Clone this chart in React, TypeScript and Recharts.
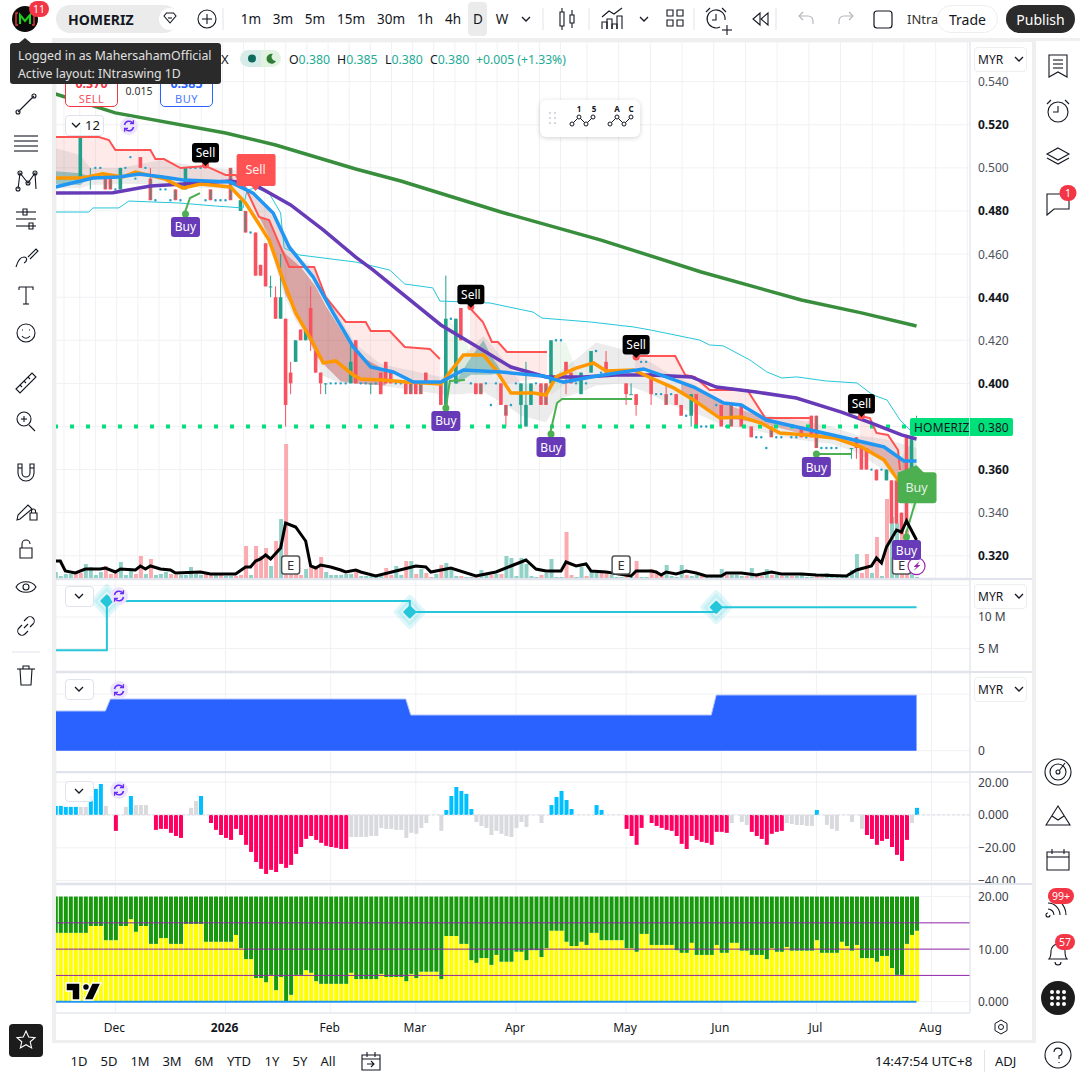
import React from "react"
import {
  Area,
  Bar,
  CartesianGrid,
  Cell,
  ComposedChart,
  Line,
  ReferenceDot,
  ReferenceLine,
  XAxis,
  YAxis,
} from "recharts"

const _ = null

// daily candles, one slot per bar
const opens = [
  .495,.495,.495,.495,.495,.495,_,.495,.5,.5,
  .495,.495,.49,.49,.5,.505,.495,.505,.5,.495,
  .485,.49,.49,.485,.49,.485,.49,.5,.5,.5,
  .485,.49,.485,.485,.485,.5,_,.48,.48,.47,
  .47,.455,.465,.445,.44,.43,.43,.405,.41,.425,
  .42,.435,.415,.405,.4,.4,.4,.4,.4,.4,
  .42,.4,.4,.4,.4,.405,.41,.405,.4,.4,
  .4,.4,.4,.4,.405,_,_,.4,.39,.43,
  .4,.435,.42,.4,.4,.4,.4,.39,.4,.4,
  .39,.39,.4,.39,.38,.39,.4,.4,.4,.4,
  .42,.42,.41,.405,.4,.395,.4,.405,.415,.405,
  .41,.405,.405,.405,.4,.395,.395,.41,.41,.405,
  .395,.395,.395,.395,.395,.39,.385,.385,.395,.38,
  .38,.38,.39,.39,.38,.39,.39,.39,_,.38,
  .375,.375,.37,.38,.375,.375,_,.375,.375,.38,
  .375,.385,.385,.37,.37,.37,.37,_,_,.37,
  .375,.37,.37,.36,.36,.36,.355,.355,.355,.34,
  .375,.355,.38,
]
const highs = [
  .495,.495,.495,.495,.495,.52,_,.5,.5,.5,
  .495,.495,.49,.5,.5,.505,.495,.505,.5,.5,
  .485,.49,.49,.485,.49,.485,.5,.5,.5,.5,
  .485,.49,.485,.485,.485,.5,_,.485,.48,.47,
  .47,.455,.465,.45,.445,.46,.43,.41,.42,.425,
  .425,.445,.415,.405,.4,.4,.4,.4,.4,.42,
  .42,.4,.4,.4,.4,.405,.41,.405,.4,.4,
  .4,.4,.4,.4,.405,_,_,.4,.45,.43,
  .43,.435,.42,.4,.4,.4,.4,.39,.4,.4,
  .39,.39,.4,.4,.41,.4,.4,.4,.4,.42,
  .42,.42,.41,.405,.4,.405,.4,.415,.415,.405,
  .415,.405,.405,.405,.4,.4,.395,.41,.41,.405,
  .395,.395,.4,.395,.395,.39,.385,.395,.395,.38,
  .38,.38,.39,.39,.38,.39,.39,.39,_,.38,
  .375,.375,.37,.38,.375,.375,_,.375,.375,.38,
  .375,.385,.385,.37,.37,.37,.37,_,_,.37,
  .375,.37,.37,.36,.36,.36,.36,.355,.355,.34,
  .375,.375,.385,
]
const lows = [
  .495,.495,.495,.495,.495,.495,_,.49,.5,.5,
  .49,.49,.49,.49,.5,.505,.495,.5,.5,.485,
  .485,.49,.49,.485,.485,.485,.49,.5,.5,.5,
  .485,.485,.485,.485,.485,.485,_,.48,.47,.47,
  .45,.45,.445,.44,.43,.43,.38,.395,.41,.42,
  .42,.415,.405,.395,.395,.4,.4,.4,.4,.4,
  .4,.4,.4,.395,.4,.395,.4,.4,.4,.4,
  .395,.395,.395,.395,.4,_,_,.39,.38,.43,
  .4,.42,.42,.4,.395,.395,.4,.39,.4,.39,
  .38,.39,.4,.38,.38,.39,.4,.39,.39,.4,
  .42,.42,.395,.4,.4,.395,.4,.405,.415,.405,
  .405,.405,.405,.405,.39,.395,.385,.41,.41,.39,
  .395,.395,.39,.395,.39,.385,.385,.38,.38,.38,
  .38,.38,.39,.38,.38,.38,.39,.38,_,.375,
  .375,.375,.37,.375,.375,.375,_,.375,.375,.375,
  .375,.375,.37,.37,.37,.37,.37,_,_,.365,
  .365,.36,.36,.36,.355,.36,.355,.335,.335,.33,
  .335,.355,.38,
]
const closes = [
  .495,.495,.495,.495,.495,.515,_,.495,.5,.5,
  .49,.49,.49,.5,.5,.505,.495,.5,.5,.485,
  .485,.49,.49,.485,.485,.485,.5,.5,.5,.5,
  .485,.485,.485,.485,.485,.485,_,.485,.47,.47,
  .45,.45,.445,.445,.43,.44,.39,.4,.42,.42,
  .425,.42,.405,.4,.4,.4,.4,.4,.4,.41,
  .4,.4,.4,.4,.4,.395,.4,.4,.4,.4,
  .395,.395,.395,.395,.4,_,_,.39,.43,.43,
  .43,.42,.42,.4,.395,.395,.4,.39,.4,.39,
  .385,.39,.4,.4,.39,.4,.4,.39,.39,.42,
  .42,.42,.405,.4,.4,.405,.4,.415,.415,.405,
  .405,.405,.405,.405,.395,.395,.39,.41,.41,.395,
  .395,.395,.39,.395,.39,.385,.385,.395,.38,.38,
  .38,.38,.39,.38,.38,.38,.39,.38,_,.375,
  .375,.375,.37,.375,.375,.375,_,.375,.375,.375,
  .375,.375,.37,.37,.37,.37,.37,_,_,.37,
  .37,.36,.36,.36,.355,.36,.36,.335,.335,.33,
  .335,.375,.38,
]
const twoToneBars = [10,11,19,24,31,35,38,45,71,73,85,90,94,98,122,135,143,152,160]

const volumes = [
  6,2,4,4,5,5,14,11,3,6,
  12,4,5,16,3,10,4,22,4,19,
  3,4,6,4,3,3,3,11,4,3,
  6,5,3,3,2,2,2,3,32,3,
  32,22,30,12,37,59,134,4,5,3,
  9,11,11,21,6,3,3,3,4,4,
  9,2,2,2,2,2,10,3,12,3,
  17,17,4,9,5,1,4,13,15,9,
  2,2,1,1,2,8,3,3,4,4,
  22,20,2,20,14,2,1,3,5,19,
  1,1,46,3,1,11,2,8,5,6,
  6,3,1,1,2,1,17,1,1,9,
  5,2,13,2,1,13,3,2,3,2,
  1,1,1,9,3,3,3,2,2,10,
  3,2,9,3,3,2,2,2,2,5,
  1,1,2,1,5,1,1,1,1,8,
  24,5,24,5,41,2,79,61,55,50,
  48,5,1,
]
const volumeUp =
  "1111001111" + "0001110010" + "1110011111" + "0010110001" + "0001010000" +
  "1000111111" + "0111110011" + "0101001011" + "1011011010" + "1111111011" +
  "1100110110" + "0111010110" + "0011110110" + "1111011101" + "0010101011" +
  "1100111111" + "1001010110" + "011"

const volumeAvg = [[0,17],[1,17],[2,7],[4,5],[6,9],[9,9],[10,10],[12,6],[13,9],[16,8],[17,12],[18,9],[19,12],[21,9],[23,8],[24,5],[29,6],[31,4],[36,4],[38,11],[39,11],[40,17],[41,19],[42,23],[43,19],[45,30],[46,55],[48,51],[50,37],[51,12],[52,10],[53,13],[55,11],[57,8],[58,6],[60,8],[61,6],[64,2],[68,7],[72,12],[74,11],[75,6],[79,10],[84,2],[88,6],[91,12],[94,18],[96,9],[98,7],[101,7],[102,16],[104,12],[106,14],[107,7],[110,6],[115,2],[116,7],[119,7],[120,6],[121,3],[122,6],[124,4],[126,7],[128,5],[130,2],[133,2],[134,5],[137,5],[140,3],[143,6],[145,4],[149,4],[152,3],[158,2],[160,8],[163,12],[164,20],[165,15],[166,31],[168,48],[169,46],[170,57],[172,38]]

const greenMa = [[0,.5343],[12,.5255],[34,.5162],[44,.5106],[60,.4995],[69,.4939],[89,.4795],[109,.4665],[129,.4517],[149,.4387],[161,.4327],[172,.4266]]
const purpleMa = [[0,.4883],[11.5,.4885],[19,.4916],[29,.493],[35,.4939],[40,.492],[47,.4828],[53.5,.4712],[60,.4586],[63.5,.4526],[77,.4271],[82,.4201],[91,.4076],[98,.403],[105.5,.403],[112,.4039],[119,.4039],[127,.403],[132,.3983],[140,.396],[148,.3932],[157,.3867],[163,.3816],[169,.3761],[172,.3742]]
const blueMa = [[0,.4911],[7.5,.4953],[12.7,.4958],[16.7,.4972],[21.5,.4958],[25.5,.4944],[35,.4934],[39.5,.4883],[43.5,.4791],[46.7,.4633],[51.5,.4494],[55.5,.4327],[59.5,.4169],[63,.4076],[67.5,.4053],[71.5,.4006],[77,.4006],[81.5,.4062],[89,.4053],[97.5,.4034],[101.5,.4006],[107,.403],[112,.4048],[117.5,.4067],[122,.403],[127.5,.3983],[133.5,.3909],[137,.39],[142,.383],[149,.3793],[157,.3751],[165.5,.3705],[169.5,.364],[172,.364]]
const orangeMa = [[0,.4953],[5.5,.4953],[9.5,.4972],[13.5,.4958],[16,.4981],[22,.4948],[25.5,.4906],[29,.4925],[35,.4911],[38,.4837],[42.7,.4665],[45.5,.448],[48,.4327],[51.5,.4187],[53.5,.4095],[56,.4104],[59.5,.4039],[61,.402],[65.5,.4016],[70,.4006],[77,.3997],[81.5,.4132],[85.5,.4132],[88,.4062],[91,.3955],[95.5,.3955],[98,.3946],[100,.403],[104,.4071],[107.5,.4095],[110,.4058],[115.5,.4062],[119,.4025],[123.5,.3979],[127.5,.3923],[132.7,.3839],[137,.3844],[141,.3816],[144.7,.377],[150,.3761],[155.5,.3747],[161,.3705],[165.5,.3645],[169,.3529],[172,.357]]
const cyanBand = [[0,.4795],[6.7,.4795],[7.5,.4814],[12.7,.4814],[14.7,.4846],[24.7,.4837],[32,.4823],[37.5,.4814],[38.3,.4897],[40,.4907],[42.7,.4883],[45,.4791],[45.7,.4628],[48.7,.4596],[60,.4563],[66.8,.4526],[69.8,.4461],[75.4,.4443],[76.8,.4382],[86.8,.4373],[95.4,.4331],[97.2,.4303],[106.8,.4285],[115.4,.4262],[118.8,.4248],[128.7,.4201],[130.7,.4178],[133.4,.4174],[138.7,.4109],[142.1,.4053],[145.1,.4025],[148.1,.403],[154,.4011],[160.1,.4002],[163.3,.3946],[166.1,.3923],[168.7,.383],[170.7,.3784]]

// red trailing stop, one run per sell signal: bar, stop, lower edge of the pink fill
const stopRuns = [
  [[0,.5143,.4953],[8.7,.5143,.4958],[10.7,.5129,.4958],[12,.5083,.4958],[19,.5083,.4958],[20,.5041,.4958],[21.7,.5041,.4958],[25,.4999,.4944],[30,.5009,.4934],[34,.4967,.4934],[36,.4967,.493],[38,.4907,.4897],[40.7,.4772,.485],[42.7,.4758,.48],[46.7,.454,.4633],[51.7,.454,.4494],[54,.4401,.439],[58,.4285,.422],[62,.4285,.409],[63,.4243,.4076],[66.8,.4243,.4055],[69.8,.4169,.402],[74.8,.416,.4006],[76.8,.4113,.4006]],
  [[82.8,.435,.4132],[85.4,.4285,.4132],[87.2,.4192,.409],[88.4,.4192,.4058],[90.2,.4146,.4],[98.2,.4146,.403]],
  [[115.8,.4122,.4067],[116.8,.4127,.4067],[123.8,.4127,.4015],[125.8,.4039,.3995],[127.7,.403,.398],[130.7,.3969,.394],[138.2,.3969,.388],[141.8,.3839,.383],[150.7,.3839,.379]],
  [[160.7,.3849,.372],[162.7,.3839,.371],[164,.377,.3705],[166.3,.3761,.37],[168.3,.3691,.366],[168.7,.3598,.3598]],
]
const buyTails = [
  [[25.9,.4795],[26.9,.486],[28.9,.4883]],
  [[78,.3886],[78.8,.4011],[81.8,.4016]],
  [[98.8,.3765],[100.2,.3909],[101.2,.3928],[115.2,.3928]],
  [[152,.3672],[159.1,.3672]],
  [[169.7,.3287],[171.7,.3445],[172,.3552]],
]

// shaded clouds: bar, low, high
const greyCloud = [[0,.4907,.5092],[5,.4907,.506],[7,.492,.4999],[13,.4925,.4999],[21,.4925,.5036],[28,.491,.501],[36,.49,.499],[38,.4837,.492],[42.7,.465,.48],[45.5,.442,.472],[48,.429,.459],[51.5,.417,.454],[53,.404,.445],[57,.4,.43],[60,.4,.418],[65,.399,.409],[77,.395,.403],[81,.395,.412],[85.5,.396,.422],[90,.39,.41],[93,.385,.4],[98,.382,.399],[101,.393,.406],[105,.396,.413],[108,.399,.419],[113,.4,.416],[118,.396,.411],[123,.39,.404],[128,.386,.399],[133,.381,.392],[140,.378,.386],[148,.374,.383],[155,.372,.38],[160,.368,.376],[166,.359,.374],[172,.35,.37]]
const redCloudA = [[40.7,.4772,.4772],[42.7,.468,.4758],[44,.456,.4679],[46,.441,.46],[49,.429,.454],[52,.413,.445],[54,.408,.436],[57,.401,.425],[60,.4,.414],[66,.399,.406]]
const redCloudB = [[125,.396,.401],[133,.384,.391],[141,.3816,.3845],[150,.3761,.379],[157,.374,.3751],[165,.365,.37],[170,.353,.364]]
const tealCloudA = [[0,.4925,.4985],[5,.492,.4975],[7,.496,.496]]
const tealCloudB = [[80,.3995,.401],[83,.404,.412],[85.5,.404,.42],[87,.404,.413],[89,.405,.406]]
const greenCloudA = [[78.5,.399,.43],[82,.406,.42],[83,.413,.413]]
const greenCloudB = [[99,.3946,.42],[102,.4,.419],[105,.4,.4]]
const greenCloudC = [[169,.35,.366],[172,.34,.375]]

const sellBars = [30, 83, 116, 161]
const sellPrices = [.5013, .4355, .4122, .3849]
const bigSellBar = 40
const bigSellPrice = .4897
const buyBars = [26, 78, 99, 152, 170]
const buyPrices = [.4786, .3886, .3765, .3672, .3287]
const bigBuyBar = 172
const bigBuyPrice = .362
const earningsBars = [47, 113, 169]
const earningsPrice = .3157
const lastPrice = .38

// step line pane
const stepBars = [0, 10.3, 70.8, 132, 172]
const stepValues = [4.73, 12.53, 10.79, 11.53, 11.53]
const diamondBars = [10.3, 70.8, 132]
const diamondValues = [12.53, 10.79, 11.53]

// blue area pane
const capBars = [0, 10, 11, 70, 71, 131, 132, 172]
const capValues = [39.7, 39.7, 51.7, 51.7, 35.7, 35.7, 55.7, 55.7]

// histogram pane
const histValues = [
  5.5,5.5,4.9,4.9,4.9,4.9,4.9,11.5,15.8,18.8,
  5.5,_,-9.7,_,4.9,11.5,6,6,6,_,
  -9.1,-8.5,-8.5,-10.9,-12.8,-14,_,4.3,8.5,11.5,
  _,-4.9,-9.1,-12.2,-14,-15.2,-8.5,-12.2,-18.2,-22.5,
  -28.6,-32.8,-35.9,-33.4,-34.7,-29.8,-32.2,-30.4,-23.7,-19.5,
  -14.6,-12.8,-15.2,-17,-18.8,-19.5,-20,-20.7,-20.7,-13.4,
  -13.4,-13.4,-13.4,-12.8,-12.8,-7.9,-8.5,-8.5,-9.1,-9.1,
  -14,-10.9,-11.5,-7.9,-4.9,_,_,-9.7,3,11.5,
  17,14.6,12.8,3.6,-4.3,-6.7,-7.9,-12.2,-9.7,-11.5,
  -12.8,-13.4,-7.9,-4.3,-7.3,_,_,-4.9,_,6,
  10.9,14.6,9.1,3.6,_,_,_,_,6,3,
  _,_,_,_,-8.5,-12.8,-18.2,-7.9,_,-4.9,
  -6.7,-7.9,-9.1,-9.7,-12.8,-17.6,-20.7,-12.8,-15.2,-16.4,
  -17,-18.2,-10.3,-10.3,-10.9,-4.9,_,-4.3,-6.1,-10.3,
  -12.8,-14.6,-18.2,-11.5,-10.3,-9.7,-4.9,-5.5,-6.1,-6.1,
  -6.7,-6.7,3,_,-6.1,-8.5,-9.7,_,_,-4.3,
  _,-8.5,-12.2,-14.6,-18.2,-15.8,-14.6,-19.5,-24.3,-28,
  -15.2,-4.9,4.3,
]
const histStates =
  "bbbbbggbbb" + "g.r.gbggg." + "rrrrrr.ggb" + ".rrrrrrrrr" + "rrrrrrrrrr" +
  "rrrrrrrrrg" + "gggggggggg" + "ggggg..gbb" + "bbbbgggggg" + "ggggg..g.b" +
  "bbbb....bb" + "....rrrr.r" + "rrrrrrrrrr" + "rrrrrg.ggr" + "rrrrrrgggg" +
  "ggb.ggg..g" + ".grrrrrrrr" + "rgb"

// yellow / green stacked pane
const yellowValues = [
  13.1,13.1,13.1,13.1,13.1,13.1,13.1,14.4,14.4,14.4,
  11.7,11.7,11.7,14.4,14.4,15.7,13.3,14.4,14.4,11,
  11,12.1,12.1,11,11,11,14.8,14.8,14.8,14.8,
  11.4,11.4,11.4,11.4,11.4,11.4,12.7,10.2,8.1,8.1,
  4.5,4.5,3.7,5.1,2.2,4.7,0,1.3,5.1,5.1,
  6,5.5,3.9,3.4,3.4,3.4,3.4,3.4,3.4,5.5,
  4.3,4.3,4.3,4.3,4.3,5.3,4.7,4.7,4.7,4.7,
  3.9,5.3,4.5,5.7,5.7,5.7,5.7,4.3,12.5,12.5,
  12.5,11,11,7.9,7.4,8.3,8.3,7,8.9,7.6,
  7.6,7.6,9.5,9.5,7.9,9.8,9.8,8.5,10.2,13.5,
  13.5,13.5,11.4,10.6,10.6,11.4,10.8,13.1,13.1,11.7,
  11.7,11.7,11.7,11.7,10.2,10.2,9.5,12.9,12.9,10.8,
  10.8,10.8,10.8,10.8,9.8,9.3,9.3,11.2,8.9,8.9,
  8.9,8.9,10.8,9.3,9.3,11.2,11.2,9.7,9.7,8.9,
  8.9,8.9,8.1,10.2,9.5,9.5,10.4,9.7,9.7,9.7,
  9.7,9.7,11.7,9.3,9.3,9.3,9.3,11.4,10.6,9.7,
  10.8,8.3,8.3,8.3,7.6,8.7,8.7,6.4,5.1,5.1,
  11,12.7,13.5,
]
const stackTop = 20
const levelLines = [5, 10, 15]
const baselineBars = [0, 172]
const baselineValues = [0, 0]

const monthBars = [12, 34, 55, 72, 92, 114, 133, 152, 175]
const monthNames = ["Dec", "2026", "Feb", "Mar", "Apr", "May", "Jun", "Jul", "Aug"]

const priceTicks = [.32, .34, .36, .38, .4, .42, .44, .46, .48, .5, .52, .54]
const boldPriceTicks = [.32, .36, .4, .44, .48, .52]

const bars = opens.map((o, i) => ({
  i,
  o,
  c: closes[i],
  range: o === null ? null : [lows[i], highs[i]],
  twoTone: twoToneBars.includes(i),
  vol: volumes[i],
  hist: histValues[i],
  yellow: yellowValues[i],
  green: stackTop - yellowValues[i],
}))
const toLine = (pts: number[][]) => pts.map(([i, v]) => ({ i, v }))
const toBand = (pts: number[][]) => pts.map(([i, lo, hi]) => ({ i, r: [lo, hi] }))

const UP = "#22a08c"
const DOWN = "#f7525f"
const GRID = "#f0f1f4"
const BORDER = "#e0e3eb"
const FONT = "'Noto Sans', sans-serif"
const xDomain: [number, number] = [0.14, 182.68]
const HIST_FILL: Record<string, string> = { b: "#00bfff", r: "#ff0062", g: "#d9dade", ".": "none" }

function Candle(props: any) {
  const { x, y, width, height, payload } = props
  if (!payload || !payload.range) return null
  const [lo, hi] = payload.range
  const cx = x + width / 2
  if (hi === lo) return <rect x={cx - 1.2} y={y - 1.2} width={2.4} height={2.4} rx={1} fill="#2a9fc9" />
  const pos = (p: number) => y + ((hi - p) / (hi - lo)) * height
  const top = pos(Math.max(payload.o, payload.c))
  const bottom = pos(Math.min(payload.o, payload.c))
  const fill = payload.c > payload.o ? UP : DOWN
  return (
    <g>
      <line x1={cx} x2={cx} y1={y} y2={y + height} stroke={payload.c === payload.o ? UP : fill} strokeWidth={1} />
      <rect x={cx - 1.8} y={top} width={3.6} height={Math.max(bottom - top, 1)} fill={payload.c === payload.o ? UP : fill} />
      {payload.twoTone && <rect x={cx - 0.5} y={top + 1} width={1} height={Math.max(bottom - top - 2, 0)} fill={UP} />}
    </g>
  )
}

function PriceTick({ x, y, payload }: any) {
  const bold = boldPriceTicks.includes(payload.value)
  if (payload.value === lastPrice) return null
  return (
    <text x={x} y={y + 4.5} fontFamily={FONT} fontSize={12} fontWeight={bold ? 700 : 400} fill={bold ? "#131722" : "#50535e"}>
      {payload.value.toFixed(3)}
    </text>
  )
}

const paneTick = (format: (v: number) => string) => ({ x, y, payload }: any) => (
  <text x={x} y={y + 4.5} fontFamily={FONT} fontSize={12} fill="#3b3e48">
    {format(payload.value)}
  </text>
)

function MonthTick({ x, y, payload }: any) {
  const idx = monthBars.indexOf(payload.value)
  const name = monthNames[idx]
  return (
    <text x={x - 1} y={y + 11} textAnchor="middle" fontFamily={FONT} fontSize={12} fontWeight={name === "2026" ? 700 : 400} fill="#131722">
      {name}
    </text>
  )
}

function SellMark({ cx, cy }: any) {
  return (
    <g fontFamily={FONT} fontSize={12}>
      <circle cx={cx} cy={cy} r={3.5} fill="#ff5252" />
      <path d={`M${cx - 4} ${cy - 3}L${cx} ${cy + 1}L${cx + 4} ${cy - 3}Z`} fill="#000" />
      <rect x={cx - 13.5} y={cy - 22} width={27} height={19.5} rx={3} fill="#000" />
      <text x={cx} y={cy - 8} textAnchor="middle" fill="#fff">Sell</text>
    </g>
  )
}

function BigSellMark({ cx, cy }: any) {
  return (
    <g fontFamily={FONT} fontSize={12.5}>
      <path d={`M${cx - 5} ${cy - 5}L${cx} ${cy + 1}L${cx + 5} ${cy - 5}Z`} fill="#ff5252" />
      <rect x={cx - 19} y={cy - 36} width={39} height={32} rx={2} fill="#ff5252" />
      <text x={cx} y={cy - 16} textAnchor="middle" fill="#fff" opacity={0.9}>Sell</text>
    </g>
  )
}

function BuyMark({ cx, cy }: any) {
  return (
    <g fontFamily={FONT} fontSize={12}>
      <circle cx={cx} cy={cy} r={3.5} fill="#4caf50" />
      <rect x={cx - 14.5} y={cy + 3} width={29} height={20} rx={3} fill="#673ab7" />
      <text x={cx} y={cy + 17.5} textAnchor="middle" fill="#fff">Buy</text>
    </g>
  )
}

function BigBuyMark({ cx, cy }: any) {
  return (
    <g fontFamily={FONT} fontSize={12.5}>
      <path d={`M${cx - 20} ${cy + 8}L${cx} ${cy}L${cx + 8} ${cy + 8}Z`} fill="#4caf50" />
      <rect x={cx - 19} y={cy + 7} width={39} height={31} rx={3} fill="#4caf50" />
      <text x={cx} y={cy + 27} textAnchor="middle" fill="#fff" opacity={0.85}>Buy</text>
    </g>
  )
}

function EarningsMark({ cx, cy }: any) {
  return (
    <g fontFamily={FONT}>
      <rect x={cx - 9} y={cy - 9} width={18} height={18} rx={2.5} fill="#fff" stroke="#555" strokeWidth={1.5} />
      <text x={cx} y={cy + 4.5} textAnchor="middle" fontSize={13} fill="#333">E</text>
    </g>
  )
}

function BoltMark({ cx, cy }: any) {
  return (
    <g>
      <circle cx={cx} cy={cy + 1} r={8.5} fill="#fff" stroke="#9c27b0" strokeWidth={1.2} />
      <path d={`M${cx + 3} ${cy - 4}L${cx - 3} ${cy + 2}H${cx}L${cx - 3} ${cy + 6}L${cx + 4} ${cy}H${cx + 1}Z`} fill="#9c27b0" />
    </g>
  )
}

function DiamondDot({ cx, cy }: any) {
  return (
    <g>
      <path d={`M${cx} ${cy - 14}L${cx + 13} ${cy}L${cx} ${cy + 14}L${cx - 13} ${cy}Z`} fill="#26c6da" fillOpacity={0.14} stroke="#26c6da" strokeOpacity={0.14} strokeWidth={6} strokeLinejoin="round" />
      <path d={`M${cx} ${cy - 5.5}L${cx + 5.5} ${cy}L${cx} ${cy + 5.5}L${cx - 5.5} ${cy}Z`} fill="#26c6da" stroke="#26c6da" strokeWidth={2} strokeLinejoin="round" />
    </g>
  )
}

function band(data: any[], fill: string, key: string) {
  return (
    <Area key={key} data={data} dataKey="r" type="linear" xAxisId="price" fill={fill} fillOpacity={1} stroke="none" dot={false} activeDot={false} isAnimationActive={false} />
  )
}

function line(data: any[], stroke: string, width: number, key: string, type: any = "linear") {
  return (
    <Line key={key} data={data} dataKey="v" type={type} xAxisId="price" stroke={stroke} strokeWidth={width} dot={false} activeDot={false} isAnimationActive={false} />
  )
}

function MainPane() {
  return (
    <ComposedChart width={976} height={536} data={bars} margin={{ top: 0, right: 0, bottom: 0, left: 0 }}>
      <CartesianGrid stroke={GRID} />
      <XAxis xAxisId="price" type="number" dataKey="i" domain={xDomain} ticks={monthBars} allowDataOverflow hide />
      <XAxis xAxisId="vol" type="number" dataKey="i" domain={xDomain} allowDataOverflow hide />
      <YAxis orientation="right" width={62} domain={[.3097, .5584]} ticks={priceTicks} interval={0} allowDataOverflow tick={PriceTick} tickLine={false} axisLine={{ stroke: BORDER }} />
      <YAxis yAxisId="vol" hide domain={[0, 536]} allowDataOverflow />
      <Bar xAxisId="vol" yAxisId="vol" dataKey="vol" barSize={4} isAnimationActive={false}>
        {bars.map((b) => (
          <Cell key={b.i} fill={volumeUp[b.i] === "1" ? "#92d1c7" : "#fbaab0"} />
        ))}
      </Bar>
      {stopRuns.map((run, k) => band(run.map(([i, hi, lo]) => ({ i, r: [lo, hi] })), "rgba(255,82,82,.12)", `pink${k}`))}
      {band(toBand(greyCloud), "rgba(110,110,110,.13)", "grey")}
      {band(toBand(greenCloudA), "rgba(76,175,80,.1)", "ga")}
      {band(toBand(greenCloudB), "rgba(76,175,80,.1)", "gb")}
      {band(toBand(greenCloudC), "rgba(76,175,80,.14)", "gc")}
      {band(toBand(redCloudA), "rgba(183,28,28,.34)", "ra")}
      {band(toBand(redCloudB), "rgba(183,28,28,.28)", "rb")}
      {band(toBand(tealCloudA), "rgba(0,130,120,.35)", "ta")}
      {band(toBand(tealCloudB), "rgba(0,130,120,.35)", "tb")}
      <Bar xAxisId="price" dataKey="range" barSize={4} shape={Candle} isAnimationActive={false} />
      <ReferenceLine xAxisId="price" y={lastPrice} stroke="#00e07a" strokeWidth={4} strokeDasharray="4 12" />
      {line(toLine(cyanBand), "#26c6da", 1, "cyan")}
      {buyTails.map((t, k) => line(toLine(t), "#4caf50", 2, `tail${k}`))}
      {stopRuns.map((run, k) => line(run.map(([i, hi]) => ({ i, v: hi })), "#ff5252", 2, `stop${k}`))}
      {line(toLine(greenMa), "#388e3c", 3.5, "green")}
      {line(toLine(purpleMa), "#673ab7", 3.5, "purple")}
      {line(toLine(orangeMa), "#ff9800", 3.5, "orange")}
      {line(toLine(blueMa), "#2196f3", 3.5, "blue")}
      <Line xAxisId="vol" yAxisId="vol" data={toLine(volumeAvg)} dataKey="v" type="linear" stroke="#000" strokeWidth={3} dot={false} activeDot={false} isAnimationActive={false} />
      {earningsBars.map((b) => (
        <ReferenceDot key={b} xAxisId="price" x={b} y={earningsPrice} shape={EarningsMark} zIndex={2000} />
      ))}
      <ReferenceDot xAxisId="price" x={172} y={earningsPrice} shape={BoltMark} zIndex={2000} />
      {sellBars.map((b, k) => (
        <ReferenceDot key={b} xAxisId="price" x={b} y={sellPrices[k]} shape={SellMark} zIndex={2000} />
      ))}
      {buyBars.map((b, k) => (
        <ReferenceDot key={b} xAxisId="price" x={b} y={buyPrices[k]} shape={BuyMark} zIndex={2000} />
      ))}
      <ReferenceDot xAxisId="price" x={bigSellBar} y={bigSellPrice} shape={BigSellMark} zIndex={2000} />
      <ReferenceDot xAxisId="price" x={bigBuyBar} y={bigBuyPrice} shape={BigBuyMark} zIndex={2000} />
    </ComposedChart>
  )
}

function StepPane() {
  const data = stepBars.map((i, k) => ({ i, v: stepValues[k] }))
  const marks = diamondBars.map((i, k) => ({ i, v: diamondValues[k] }))
  return (
    <ComposedChart width={976} height={91} margin={{ top: 0, right: 0, bottom: 0, left: 0 }}>
      <CartesianGrid stroke={GRID} />
      <XAxis type="number" dataKey="i" domain={xDomain} ticks={monthBars} allowDataOverflow hide />
      <YAxis orientation="right" width={62} domain={[1.45, 15.85]} ticks={[5, 10, 15]} interval={0} allowDataOverflow tick={paneTick((v) => (v === 15 ? "" : `${v} M`))} tickLine={false} axisLine={{ stroke: BORDER }} />
      <Line data={marks} dataKey="v" stroke="none" dot={DiamondDot} activeDot={false} isAnimationActive={false} />
      <Line data={data} dataKey="v" type="stepAfter" stroke="#26c6da" strokeWidth={2} dot={false} activeDot={false} isAnimationActive={false} />
    </ComposedChart>
  )
}

function CapPane() {
  const data = capBars.map((i, k) => ({ i, v: capValues[k] }))
  return (
    <ComposedChart width={976} height={99} margin={{ top: 0, right: 0, bottom: 0, left: 0 }}>
      <CartesianGrid stroke={GRID} />
      <XAxis type="number" dataKey="i" domain={xDomain} ticks={monthBars} allowDataOverflow hide />
      <YAxis orientation="right" width={62} domain={[-21.3, 77.7]} ticks={[0, 56.7]} interval={0} allowDataOverflow tick={paneTick((v) => (v === 0 ? "0" : ""))} tickLine={false} axisLine={{ stroke: BORDER }} />
      <Area data={data} dataKey="v" type="linear" baseValue={0} fill="#2962ff" fillOpacity={1} stroke="#b2c3ff" strokeWidth={1} dot={false} activeDot={false} isAnimationActive={false} />
    </ComposedChart>
  )
}

function HistPane() {
  return (
    <ComposedChart width={976} height={110} data={bars} margin={{ top: 0, right: 0, bottom: 0, left: 0 }}>
      <CartesianGrid stroke={GRID} />
      <XAxis type="number" dataKey="i" domain={xDomain} ticks={monthBars} allowDataOverflow hide />
      <YAxis orientation="right" width={62} domain={[-41.4, 25.5]} ticks={[-40, -20, 0, 20]} interval={0} allowDataOverflow
        tick={paneTick((v) => (v === 0 ? "0.000" : `${v < 0 ? "\u2212" : ""}${Math.abs(v).toFixed(2)}`))} tickLine={false} axisLine={{ stroke: BORDER }} />
      <ReferenceLine y={0} stroke="#dcdde2" strokeDasharray="3 2" />
      <Bar dataKey="hist" barSize={4} isAnimationActive={false}>
        {bars.map((b) => (
          <Cell key={b.i} fill={HIST_FILL[histStates[b.i]]} />
        ))}
      </Bar>
    </ComposedChart>
  )
}

function StackPane() {
  const baseline = baselineBars.map((i, k) => ({ i, v: baselineValues[k] }))
  return (
    <ComposedChart width={976} height={155} data={bars} margin={{ top: 0, right: 0, bottom: 0, left: 0 }}>
      <CartesianGrid stroke={GRID} />
      <XAxis type="number" dataKey="i" domain={xDomain} ticks={monthBars} interval={0} allowDataOverflow height={27} tick={MonthTick} tickLine={false} axisLine={{ stroke: BORDER }} />
      <YAxis orientation="right" width={62} domain={[-2.15, 22.2]} ticks={[0, 10, 20]} interval={0} allowDataOverflow
        tick={paneTick((v) => (v === 0 ? "0.000" : v.toFixed(2)))} tickLine={false} axisLine={{ stroke: BORDER }} />
      <Bar dataKey="yellow" stackId="s" fill="#ffff00" barSize={4} isAnimationActive={false} />
      <Bar dataKey="green" stackId="s" fill="#16990b" barSize={4} isAnimationActive={false} />
      {levelLines.map((v) => (
        <ReferenceLine key={v} y={v} stroke="#8e24aa" strokeWidth={1} />
      ))}
      <Line data={baseline} dataKey="v" stroke="#2196f3" strokeWidth={2} dot={false} activeDot={false} isAnimationActive={false} />
    </ComposedChart>
  )
}

// ---- chrome around the chart ----

const txt = (x: number, y: number, s: string, o: any = {}) => (
  <div style={{ position: "absolute", left: x, top: y, transform: `translate(${o.center ? "-50%" : "0"},-50%)`, whiteSpace: "nowrap", fontFamily: FONT, fontSize: o.size ?? 14, fontWeight: o.weight ?? 400, color: o.color ?? "#131722", letterSpacing: o.ls }}>
    {s}
  </div>
)
const box = (x: number, y: number, w: number, h: number, s: any) => (
  <div style={{ position: "absolute", left: x, top: y, width: w, height: h, boxSizing: "border-box", ...s }} />
)
const ico = (paths: string, extra: any = {}) => (
  <g fill="none" stroke="#131722" strokeWidth={1.1} {...extra}>
    {paths.split("|").map((d, k) => <path key={k} d={d} />)}
  </g>
)
const at = (x: number, y: number, node: any) => <g transform={`translate(${x} ${y})`}>{node}</g>
const badge = (x: number, y: number, label: string) => (
  <div style={{ position: "absolute", left: x, top: y, transform: "translate(-50%,-50%)", minWidth: 9, padding: "0 4px", height: 16, borderRadius: 8, background: "#f23645", color: "#fff", fontFamily: FONT, fontSize: 10.5, lineHeight: "16px", textAlign: "center" }}>
    {label}
  </div>
)
const chevron = (x: number, y: number, c = "#131722") => (
  <svg style={{ position: "absolute", left: x - 5, top: y - 3 }} width={10} height={6}><path d="M1 1l4 4 4-4" fill="none" stroke={c} strokeWidth={1.3} /></svg>
)
const syncIcon = (x: number, y: number) => (
  <svg style={{ position: "absolute", left: x - 9, top: y - 9 }} width={18} height={18}>
    <circle cx={9} cy={9} r={9} fill="#ece6fb" />
    <path d="M4.5 8a4.6 4.6 0 0 1 8.2-2M13.5 10a4.6 4.6 0 0 1-8.2 2" fill="none" stroke="#6a2cf5" strokeWidth={1.5} />
    <path d="M13.4 3.2v3.4H10M4.6 14.8v-3.4H8" fill="none" stroke="#6a2cf5" strokeWidth={1.3} />
  </svg>
)
const collapseBtn = (y: number, label?: string) => (
  <>
    {box(65, y - 10, label ? 39 : 29, 21, { background: "rgba(255,255,255,.9)", border: "1px solid #e0e3eb", borderRadius: 4 })}
    {chevron(label ? 76 : 79, y)}
    {label && txt(85, y, label, { size: 13 })}
  </>
)
const myrBtn = (y: number) => (
  <>
    {box(974, y, 53, 25, { background: "#fff", border: "1px solid #eceef2", borderRadius: 4 })}
    {txt(978, y + 12, "MYR", { size: 12 })}
    {chevron(1019, y + 12)}
  </>
)

const intervals: [string, number][] = [["1m", 251], ["3m", 283], ["5m", 315], ["15m", 351], ["30m", 391], ["1h", 425], ["4h", 453], ["D", 478], ["W", 502]]
const ranges: [string, number][] = [["1D", 79], ["5D", 109], ["1M", 140], ["3M", 172], ["6M", 204], ["YTD", 239], ["1Y", 272], ["5Y", 300], ["All", 328]]

function TopBar() {
  return (
    <>
      {box(0, 0, 1080, 38, { background: "#fff" })}
      {box(56, 5, 122, 28, { background: "#ebebeb", borderRadius: 14 })}
      {txt(68, 19, "HOMERIZ", { weight: 700, size: 14 })}
      {box(468, 2, 19, 34, { background: "#ebebeb", borderRadius: 4 })}
      {intervals.map(([s, x]) => <React.Fragment key={s}>{txt(x, 19, s, { center: true, size: 13.5 })}</React.Fragment>)}
      {chevron(526, 19)}
      {chevron(644, 19)}
      {txt(907, 19, "INtra", { size: 13, color: "#333" })}
      {box(937, 5, 61, 28, { background: "#fff", border: "1px solid #eceef2", borderRadius: 14 })}
      {txt(967.5, 19, "Trade", { center: true })}
      {box(1006, 5, 69, 28, { background: "#2b2b2b", borderRadius: 14 })}
      {txt(1040.5, 19, "Publish", { center: true, color: "#fff" })}
      <svg style={{ position: "absolute", left: 0, top: 0 }} width={1080} height={38}>
        <circle cx={25} cy={19} r={13} fill="#0b0b0b" />
        <path d="M20 24v-9l5 6 5-6v9" fill="none" stroke="#1fd11f" strokeWidth={2} />
        <path d="M18 13h-2v12h2M32 13h2v12h-2" fill="none" stroke="#e53935" strokeWidth={1.4} />
        <circle cx={170} cy={19} r={11} fill="#fff" />
        {at(170, 19, ico("M-6 -3l2.5-3h7l2.5 3-6 7z|M-2 -1h4"))}
        {at(207, 19, ico("M-9 0a9 9 0 1 0 18 0a9 9 0 1 0-18 0|M-5 0h10|M0 -5v10"))}
        {[223, 543, 589, 694, 776].map((x) => <path key={x} d={`M${x} 8v22`} stroke="#e0e3eb" />)}
        {at(567, 19, ico("M-7 -7h4v14h-4z|M-5 -11v4|M-5 7v4|M3 -4h4v8h-4z|M5 -9v5|M5 4v5"))}
        {at(613, 19, ico("M-11 10v-7h5v7|M-6 10v-10h5v10|M-1 10v-5h5v5|M4 10v-13h5v13|M-11 -2l7-6 5 3 8-6"))}
        {at(675, 19, ico("M-8 -9h6v6h-6z|M2 -9h6v6h-6z|M-8 1h6v6h-6z|M2 1h6v6h-6z"))}
        {at(716, 19, ico("M4 8a9 9 0 1 1 5-7|M0 -5v6h-4|M-10 -7l4-4|M10 -7l-4-4|M6 11h10|M11 6v10"))}
        {at(760, 19, ico("M8 -6v12l-7-6z|M0 -6v12l-7-6z"))}
        {at(806, 19, ico("M-7 -3h9a5 5 0 0 1 5 5v3|M-3 -7l-4 4 4 4", { stroke: "#b2b5be" }))}
        {at(846, 19, ico("M7 -3h-9a5 5 0 0 0-5 5v3|M3 -7l4 4-4 4", { stroke: "#b2b5be" }))}
        <rect x={874} y={11} width={18} height={17} rx={3} fill="none" stroke="#131722" strokeWidth={1.2} />
      </svg>
      {badge(39, 9, "11")}
    </>
  )
}

function LeftBar() {
  const items = [
    [104, "M-8 8L8 -8|M-10 8a2 2 0 1 0 4 0a2 2 0 1 0-4 0|M6 -8a2 2 0 1 0 4 0a2 2 0 1 0-4 0"],
    [143, "M-12 -7h24|M-12 -2h24|M-12 3h24|M-12 8h24"],
    [181, "M-8 8L-6 -8L2 2L9 -8L10 8|M-10 8a2 2 0 1 0 4 0a2 2 0 1 0-4 0|M-8 -8a2 2 0 1 0 4 0a2 2 0 1 0-4 0|M0 2a2 2 0 1 0 4 0a2 2 0 1 0-4 0|M7 -8a2 2 0 1 0 4 0a2 2 0 1 0-4 0"],
    [219, "M-10 -7h20|M-10 0h20|M-10 7h20|M-3 -10v6h4v-6z|M3 4v6h4v-6z"],
    [258, "M-10 9c2-7 4-10 8-10s3 5 0 6|M2 -1L10 -9l2 2-8 8"],
    [295, "M-7 -8h14v3|M-7 -8v3|M0 -8v17|M-3 9h6"],
    [333, "M-9 0a9 9 0 1 0 18 0a9 9 0 1 0-18 0|M-4 3c2 3 6 3 8 0|M-4 -3h1|M3 -3h1"],
    [383, "M-10 6L6 -10L10 -6L-6 10z|M-6 2l2 2|M-2 -2l2 2|M2 -6l2 2"],
    [421, "M-9 -2a7 7 0 1 0 14 0a7 7 0 1 0-14 0|M3 4l6 6|M-5 -2h6|M-2 -5v6"],
    [473, "M-8 -9v9a8 8 0 0 0 16 0v-9h-4v9a4 4 0 0 1-8 0v-9z|M-8 -5h4|M4 -5h4"],
    [511, "M-9 9l1-5L2 -6l4 4L-6 8z|M4 2h7v7h-7z|M5.5 2v-2a2 2 0 0 1 4 0v2"],
    [549, "M-6 -1h12v10h-12z|M-4 -1v-4a4 4 0 0 1 8 0"],
    [587, "M-10 0c4-7 16-7 20 0c-4 7-16 7-20 0z|M-3 0a3 3 0 1 0 6 0a3 3 0 1 0-6 0"],
    [626, "M-2 2L2 -2|M-2 -5l3-3a4 4 0 0 1 6 6l-3 3|M2 5l-3 3a4 4 0 0 1-6-6l3-3"],
    [676, "M-9 -7h18|M-6 -7l1 16h10l1-16|M-3 -7v-3h6v3"],
  ] as [number, string][]
  return (
    <>
      {box(0, 38, 52, 1042, { background: "#fff" })}
      <svg style={{ position: "absolute", left: 0, top: 0 }} width={52} height={1080}>
        {items.map(([y, d]) => <g key={y}>{at(26, y, ico(d))}</g>)}
        <path d="M12 652h28" stroke="#e0e3eb" />
        <rect x={9} y={1024} width={34} height={33} rx={4} fill="#1c1c1c" />
        {at(26, 1040, ico("M0 -9l2.7 6 6.3 .6-4.8 4.2 1.4 6.2-5.6-3.3-5.6 3.3 1.4-6.2-4.8-4.2 6.3-.6z", { stroke: "#fff" }))}
      </svg>
    </>
  )
}

function RightBar() {
  const items = [
    [66, "M-9 -11h18v22l-9-5-9 5z|M-5 -6h10|M-5 -2h10|M-5 2h10"],
    [111, "M-10 1a10 10 0 1 0 20 0a10 10 0 1 0-20 0|M0 -5v6h-5|M-11 -7l4-4|M11 -7l-4-4"],
    [157, "M0 -9l11 6-11 6-11-6z|M-11 1l11 6 11-6"],
    [203, "M-11 -9h22v15h-15l-7 6z"],
    [772, "M-13 0a13 13 0 1 0 26 0a13 13 0 1 0-26 0|M-8 0a8 8 0 1 0 16 0a8 8 0 1 0-16 0|M-2 0a2 2 0 1 0 4 0a2 2 0 1 0-4 0|M1 -1l6-8"],
    [816, "M-12 9L0 -10L12 9z|M-6 0l6 4 6-4"],
    [860, "M-11 -8h22v18h-22z|M-11 -3h22|M-6 -11v5|M6 -11v5"],
    [905, "M-10 -8a18 18 0 0 1 18 18|M-10 -2a12 12 0 0 1 12 12|M-10 4a6 6 0 0 1 6 6|M-10 8a2 2 0 1 0 2 2"],
    [953, "M-9 6c2-2 2-4 2-8a7 7 0 0 1 14 0c0 4 0 6 2 8z|M-3 9a3 3 0 0 0 6 0"],
    [1055, "M-13 0a13 13 0 1 0 26 0a13 13 0 1 0-26 0|M-4 -3a4 4 0 1 1 5 4v3|M1 7v1"],
  ] as [number, string][]
  const dots = [-6, 0, 6]
  return (
    <>
      {box(1036, 41, 44, 1039, { background: "#fff" })}
      <svg style={{ position: "absolute", left: 1036, top: 0 }} width={44} height={1080}>
        {items.map(([y, d]) => <g key={y}>{at(22, y, ico(d))}</g>)}
        <circle cx={22} cy={998} r={17} fill="#1c1c1c" />
        {dots.map((a) => dots.map((b) => <circle key={`${a}${b}`} cx={22 + a} cy={998 + b} r={2} fill="#fff" />))}
      </svg>
      {badge(1068, 193, "1")}
      {badge(1061, 896, "99+")}
      {badge(1065, 942, "57")}
    </>
  )
}

function Overlay() {
  return (
    <>
      {box(65, 70, 53, 37, { background: "#fff", border: "1px solid #f23645", borderRadius: 5 })}
      {txt(91.5, 83, "0.370", { center: true, color: "#f23645", weight: 700, size: 12.5 })}
      {txt(91.5, 98, "SELL", { center: true, color: "#f7525f", size: 11, ls: 0.5 })}
      {txt(139, 91, "0.015", { center: true, size: 10.5, color: "#333" })}
      {box(160, 70, 53, 37, { background: "#fff", border: "1px solid #2962ff", borderRadius: 5 })}
      {txt(186.5, 83, "0.385", { center: true, color: "#2962ff", weight: 700, size: 12.5 })}
      {txt(186.5, 98, "BUY", { center: true, color: "#4a7bff", size: 11, ls: 0.5 })}

      <svg style={{ position: "absolute", left: 0, top: 0, pointerEvents: "none" }} width={1080} height={80}>
        <path d="M19 43l6-5 6 5z" fill="#2a2a2a" />
      </svg>
      {box(10, 43, 211, 41, { background: "#2a2a2a", borderRadius: 3 })}
      {txt(18, 55, "Logged in as MahersahamOfficial", { size: 12.3, color: "#e0e0e0" })}
      {txt(18, 73, "Active layout: INtraswing 1D", { size: 12.3, color: "#e0e0e0" })}

      {txt(221, 59, "X", { size: 13 })}
      {box(240, 50, 41, 17, { background: "linear-gradient(90deg,#d7ece8 50%,#e2f2e1 50%)", borderRadius: 9 })}
      <svg style={{ position: "absolute", left: 240, top: 50 }} width={41} height={17}>
        <circle cx={12} cy={8.5} r={4} fill="#0c6b5c" />
        <path d="M33 4a5 5 0 1 0 3 7a4 4 0 0 1-3-7z" fill="#2e7d32" />
      </svg>
      {[["O", "0.380", 289], ["H", "0.385", 337], ["L", "0.380", 385], ["C", "0.380", 430]].map(([a, b, x]) => (
        <div key={a as string} style={{ position: "absolute", left: x as number, top: 59, transform: "translateY(-50%)", fontFamily: FONT, fontSize: 12.3, whiteSpace: "nowrap", color: "#22ab94" }}>
          <span style={{ color: "#131722" }}>{a}</span>{b}
        </div>
      ))}
      {txt(476, 59, "+0.005 (+1.33%)", { size: 12.2, color: "#22ab94" })}

      {box(540, 100, 100, 37, { background: "#fff", borderRadius: 6, boxShadow: "0 1px 5px rgba(0,0,0,.18)" })}
      <svg style={{ position: "absolute", left: 540, top: 100 }} width={100} height={37}>
        {[10, 15].map((x) => [13, 18, 23].map((y) => <circle key={`${x}${y}`} cx={x} cy={y} r={1} fill="#c9cbd2" />))}
        {[43, 81].map((x) => (
          <g key={x}>
            <path d={`M${x - 11} 24l7-7 7 7 7-7`} fill="none" stroke="#131722" />
            {[[-11, 24], [-4, 17], [3, 24], [10, 17]].map(([a, b]) => <circle key={a} cx={x + a} cy={b} r={2} fill="#fff" stroke="#131722" />)}
          </g>
        ))}
        <g fontFamily={FONT} fontSize={8} fontWeight={700} fill="#131722" textAnchor="middle">
          <text x={39} y={12}>1</text><text x={54} y={12}>5</text>
          <text x={77} y={12}>A</text><text x={91} y={12}>C</text>
        </g>
      </svg>

      {collapseBtn(125, "12")}
      {syncIcon(129, 126)}
      {collapseBtn(596)}
      {syncIcon(119, 596)}
      {collapseBtn(689)}
      {syncIcon(119, 690)}
      {collapseBtn(791)}
      {syncIcon(119, 790)}

      {myrBtn(47)}
      {myrBtn(584)}
      {myrBtn(677)}

      {box(910, 418, 103, 17.5, { background: "#00e07a", borderRadius: 2 })}
      {box(969, 418, 1, 17.5, { background: "rgba(255,255,255,.6)" })}
      {txt(914, 426.5, "HOMERIZ", { size: 12, ls: 0.2 })}
      {txt(978, 426.5, "0.380", { size: 12 })}

      <svg style={{ position: "absolute", left: 65, top: 982 }} width={38} height={20}>
        <path d="M1 1h14v17h-8v-9h-6z" fill="#000" stroke="#fff" strokeWidth={1.5} />
        <circle cx={21} cy={5} r={3.5} fill="#000" stroke="#fff" strokeWidth={1.5} />
        <path d="M27 1h9l-8 17h-9z" fill="#000" stroke="#fff" strokeWidth={1.5} />
      </svg>

      <svg style={{ position: "absolute", left: 992, top: 1018 }} width={18} height={18}>
        <path d="M9 2l6 3.5v7L9 16l-6-3.5v-7z" fill="none" stroke="#131722" />
        <circle cx={9} cy={9} r={2.5} fill="none" stroke="#131722" />
      </svg>
    </>
  )
}

function BottomBar() {
  return (
    <>
      {box(52, 1043, 984, 37, { background: "#fff" })}
      {ranges.map(([s, x]) => <React.Fragment key={s}>{txt(x, 1061, s, { center: true, size: 13 })}</React.Fragment>)}
      <svg style={{ position: "absolute", left: 348, top: 1048 }} width={40} height={26}>
        <path d="M14 7h18v15H14zM14 11h18M19 4v5M27 4v5M19 16h7M23 13l3 3-3 3" fill="none" stroke="#131722" strokeWidth={1.1} />
      </svg>
      {txt(875, 1061, "14:47:54 UTC+8", { size: 13.4 })}
      {box(984, 1050, 1, 22, { background: "#e0e3eb" })}
      {txt(995, 1061, "ADJ", { size: 13 })}
    </>
  )
}

const paneStyle = (top: number, height: number) => ({
  position: "absolute" as const,
  left: 56,
  top,
  width: 976,
  height,
  overflow: "hidden",
  background: "#fff",
})

export default function App() {
  return (
    <div style={{ position: "fixed", left: 0, top: 0, width: 1080, height: 1080, overflow: "hidden", background: "#efefef" }}>
      <div style={paneStyle(42, 536)}><MainPane /></div>
      {box(56, 578, 976, 2, { background: BORDER })}
      <div style={paneStyle(580, 91)}><StepPane /></div>
      {box(56, 671, 976, 2, { background: BORDER })}
      <div style={paneStyle(673, 99)}><CapPane /></div>
      {box(56, 771, 976, 2, { background: BORDER })}
      <div style={paneStyle(773, 110)}><HistPane /></div>
      {box(56, 883, 976, 2, { background: BORDER })}
      <div style={paneStyle(885, 155)}><StackPane /></div>
      <TopBar />
      <LeftBar />
      <RightBar />
      <BottomBar />
      <Overlay />
    </div>
  )
}
